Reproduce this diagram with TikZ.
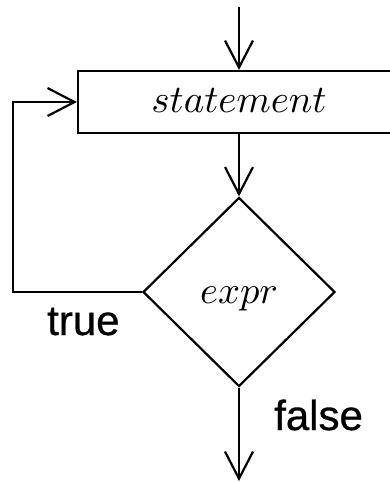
\documentclass[tikz,border=0pt]{standalone}
\usepackage{graphicx}
\usepackage{fontspec}
\newfontfamily\labelfont[FakeBold=0.7]{Liberation Sans}
\usetikzlibrary{shapes.geometric,arrows.meta}

\tikzset{
  flow/.style={line width=2.2pt, -{Straight Barb[length=27pt,width=28pt,line width=2.2pt]}},
  stmtbox/.style={draw, line width=2.2pt, rectangle, minimum width=322pt,
    minimum height=62pt, inner sep=0pt, text height=20pt, text depth=0pt},
  testbox/.style={draw, line width=2.2pt, diamond, minimum width=192pt,
    minimum height=189pt, inner sep=0pt, text height=22pt, text depth=0pt},
  lbl/.style={anchor=base west, inner sep=0pt, font=\labelfont\fontsize{42}{48}\selectfont}
}

\begin{document}
\begin{tikzpicture}[x=1pt, y=-1pt]
  \useasboundingbox (0,0) rectangle (390,482);
  \clip (0,0) rectangle (390,482);

  % entry point and exit point
  \coordinate (entry) at (239,7);
  \coordinate (exit) at (239,481);

  % loop body and test
  \node[stmtbox] (stmt) at (239,102) {\scalebox{3.9}{$statement$}};
  \node[testbox] (test) at (239,292) {\scalebox{3.85}{$expr$}};

  % connectors
  \draw[flow] (entry) -- (stmt.north);
  \draw[flow] (stmt.south) -- (test.north);
  \draw[flow] (test.west) -- ++(-129,0) |- (stmt.west);
  \draw[flow] (test.south) -- (exit);

  % branch labels
  \node[lbl] (truelbl) at (47,335) {true};
  \node[lbl] (falselbl) at (274,430) {false};
\end{tikzpicture}
\end{document}
